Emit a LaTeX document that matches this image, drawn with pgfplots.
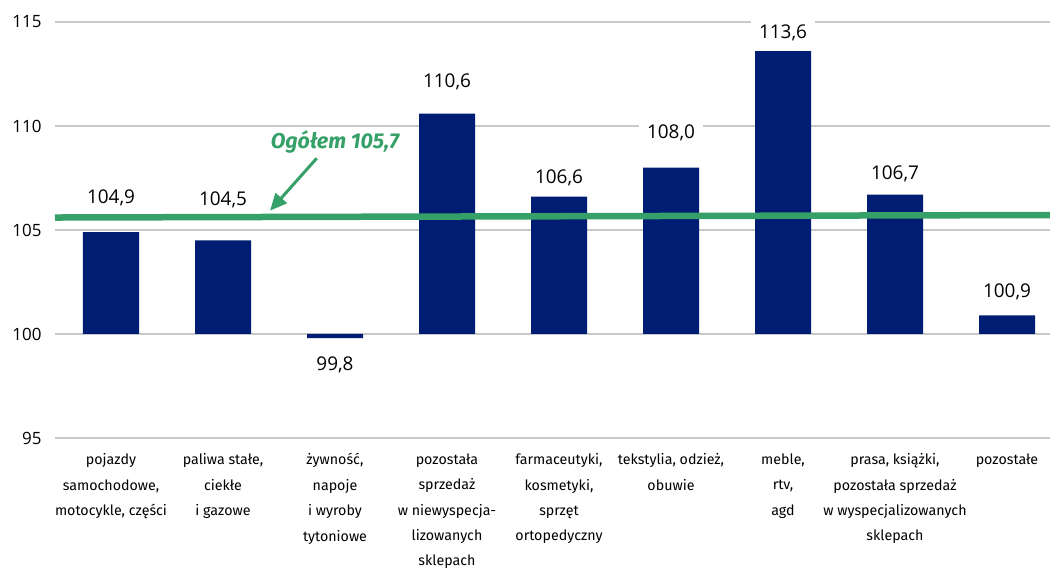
\documentclass[border=0pt]{standalone}
\usepackage{fontspec}
\setmainfont{Fira Sans}
\newfontfamily\numfont{Open Sans}
\usepackage{pgfplots}
\pgfplotsset{compat=1.18}
\usepackage{pgfplotstable}
\usetikzlibrary{arrows.meta}

\definecolor{navy}{RGB}{0,29,115}
\definecolor{ogolem}{RGB}{53,160,103}
\definecolor{siatka}{RGB}{200,200,200}

% dev = value - 100 (bars start at 100), ly = where the label sits
\pgfplotstableread{
x dev v ly
0 4.9 104.9 6.56
1 4.5 104.5 6.46
2 -0.2 99.8 -1.47
3 10.6 110.6 12.12
4 6.6 106.6 7.52
5 8.0 108.0 9.66
6 13.6 113.6 14.50
7 6.7 106.7 7.69
8 0.9 100.9 2.04
}\dane

\begin{document}
\begin{tikzpicture}
\begin{axis}[
  name=ax,
  scale only axis,
  x=112bp, y=20.8bp,
  xmin=-0.5, xmax=8.384,
  ymin=-5, ymax=15,
  clip=false,
  axis line style={draw=none},
  major tick length=0pt,
  ymajorgrids=true,
  grid style={siatka, line width=1.2bp},
  ytick={-5,0,5,10,15},
  yticklabels={95,100,105,110,115},
  yticklabel style={font=\numfont\fontsize{17}{20}\selectfont, xshift=-10bp},
  xtick={0,...,8},
  xticklabels={
    {pojazdy\\samochodowe,\\motocykle, części},
    {paliwa stałe,\\ciekłe\\i gazowe},
    {żywność,\\napoje\\i wyroby\\tytoniowe},
    {pozostała\\sprzedaż\\w niewyspecja-\\lizowanych\\sklepach},
    {farmaceutyki,\\kosmetyki,\\sprzęt\\ortopedyczny},
    {tekstylia, odzież,\\obuwie},
    {meble,\\rtv,\\agd},
    {prasa, książki,\\pozostała sprzedaż\\w wyspecjalizowanych\\sklepach},
    {pozostałe}},
  xticklabel style={font=\fontsize{14.3}{25.5}\selectfont, align=center, anchor=north, yshift=-12bp},
]
\addplot[ybar, bar width=56bp, bar shift=0pt, fill=navy, draw=none]
  table[x=x, y=dev] {\dane};
\addplot[ogolem, line width=6.5bp, sharp plot, no marks]
  coordinates {(-0.5,5.60) (8.384,5.72)};
\addplot[only marks, mark=none, point meta=explicit,
  nodes near coords={\pgfmathprintnumber[assume math mode=true,use comma,fixed,fixed zerofill,precision=1]{\pgfplotspointmeta}},
  every node near coord/.append style={font=\numfont\fontsize{19}{22}\selectfont, text=black,
    anchor=center, fill=white, inner xsep=8bp, inner ysep=3bp}]
  table[x=x, y=ly, meta=v] {\dane};
\draw[ogolem, line width=3bp, -{Triangle[length=17bp, width=15bp]}]
  (axis cs:1.837,8.45) -- (axis cs:1.42,5.93);
\node[ogolem, font=\bfseries\itshape\fontsize{21.5}{24}\selectfont] at (axis cs:2.0,9.23) {Ogółem 105,7};
\end{axis}
\pgfresetboundingbox
\path (ax.south west) ++(-55bp,-130bp) rectangle ++(1050bp,568bp);
\end{tikzpicture}
\end{document}
